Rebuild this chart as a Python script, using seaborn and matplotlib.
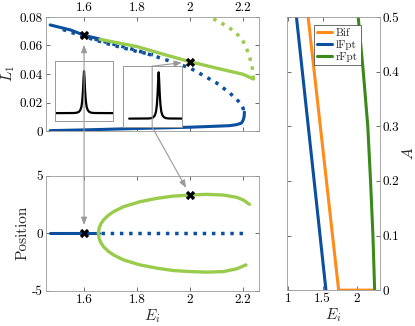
import numpy as np
import pandas as pd
import seaborn as sns
import matplotlib.pyplot as plt
from matplotlib.patches import ConnectionPatch

sns.set_style('ticks')
plt.rcParams['font.family'] = ['serif']
plt.rcParams['font.serif'] = ['cmr10', 'DejaVu Serif']
plt.rcParams['mathtext.fontset'] = 'cm'
plt.rcParams['axes.formatter.use_mathtext'] = True

BLUE = '#0b4f9e'
LGREEN = '#99cc4d'
ORANGE = '#ff8c1a'
DGREEN = '#3a8a1a'
GRAY = '#9a9a9a'

# ---- top panel: L1 vs Ei
up_solid_x = [1.472, 1.52, 1.55, 1.6, 1.63, 1.66]
up_solid_y = [0.0744, 0.0722, 0.0708, 0.0672, 0.0658, 0.0645]
dot_a_x = [1.64, 1.7, 1.8, 1.9, 2.0, 2.05, 2.1, 2.15, 2.19, 2.2, 2.205]
dot_a_y = [0.0645, 0.0615, 0.0565, 0.0505, 0.0442, 0.039, 0.0337, 0.0267, 0.0196, 0.016, 0.0133]
dot_b_x = [1.52, 1.6, 1.7, 1.8, 1.86]
dot_b_y = [0.0712, 0.0662, 0.0606, 0.0558, 0.0535]
low_x = [1.472, 1.6, 1.8, 2.0, 2.1, 2.15, 2.176, 2.194, 2.2, 2.204, 2.205]
low_y = [0.0003, 0.0008, 0.0018, 0.0027, 0.0034, 0.0038, 0.0045, 0.0056, 0.0075, 0.010, 0.0133]
gr_solid_x = [1.66, 1.8, 1.9, 2.0, 2.1, 2.2, 2.239]
gr_solid_y = [0.0643, 0.0592, 0.0538, 0.0486, 0.0441, 0.0398, 0.0365]
gr_dot_x = [2.239, 2.236, 2.226, 2.215, 2.201, 2.18, 2.151, 2.12, 2.08]
gr_dot_y = [0.0365, 0.043, 0.051, 0.057, 0.0627, 0.0675, 0.072, 0.0755, 0.0795]
mark_top_x = [1.6, 2.0]
mark_top_y = [0.0672, 0.0486]

# ---- bottom panel: position vs Ei
pos_solid_x = [1.472, 1.655]
pos_solid_y = [0, 0]
pos_dot_x = [1.665, 2.2]
pos_dot_y = [0, 0]
pos_up_x = [1.654, 1.657, 1.663, 1.673, 1.691, 1.711, 1.748, 1.811, 1.874, 1.937,
            2.0, 2.063, 2.126, 2.176, 2.201, 2.224]
pos_up_y = [0, 0.45, 0.8, 1.15, 1.55, 1.87, 2.3, 2.74, 3.03, 3.23,
            3.32, 3.38, 3.32, 3.12, 2.89, 2.51]
pos_lo_x = [1.654, 1.657, 1.663, 1.673, 1.691, 1.711, 1.748, 1.811, 1.874, 1.937,
            2.0, 2.063, 2.126, 2.176, 2.211]
pos_lo_y = [0, -0.45, -0.8, -1.16, -1.56, -1.88, -2.31, -2.75, -3.03, -3.24,
            -3.33, -3.38, -3.33, -3.09, -2.75]
mark_bot_x = [1.6, 2.0]
mark_bot_y = [0, 3.32]

# ---- right panel: A vs Ei
bif_x = [1.29, 1.735, 2.23]
bif_y = [0.5, 0, 0]
lf_x = [1.12, 1.55]
lf_y = [0.5, 0]
rf_x = [2.02, 2.094, 2.16, 2.2, 2.235, 2.26]
rf_y = [0.5, 0.4, 0.3, 0.2, 0.1, 0]

# ---- inset pulse profile
pulse_x = [-1, -0.35, -0.25, -0.18, -0.13, -0.09, -0.06, -0.035, -0.015, 0,
           0.015, 0.035, 0.06, 0.09, 0.13, 0.18, 0.25, 0.35, 1]
pulse_y = [0, 0.003, 0.01, 0.03, 0.07, 0.15, 0.3, 0.55, 0.85, 1,
           0.85, 0.55, 0.3, 0.15, 0.07, 0.03, 0.01, 0.003, 0]

top_yticks = [0, 0.02, 0.04, 0.06, 0.08]
top_ylabels = ['0', '0.02', '0.04', '0.06', '0.08']
ei_ticks = [1.6, 1.8, 2.0, 2.2]
ei_labels = ['1.6', '1.8', '2', '2.2']
pos_ticks = [-5, 0, 5]
pos_labels = ['-5', '0', '5']
a_ticks = [0, 0.1, 0.2, 0.3, 0.4, 0.5]
a_labels = ['0', '0.1', '0.2', '0.3', '0.4', '0.5']
r_xticks = [1, 1.5, 2]
r_xlabels = ['1', '1.5', '2']

fig = plt.figure(figsize=(4.15, 3.26), dpi=100)
ax1 = fig.add_axes([0.110, 0.598, 0.514, 0.350])
ax2 = fig.add_axes([0.110, 0.108, 0.514, 0.353])
ax3 = fig.add_axes([0.692, 0.110, 0.224, 0.838])


def line(ax, x, y, color, ls='-', lw=2.2, label=None):
    sns.lineplot(x=x, y=y, ax=ax, color=color, linestyle=ls, lw=lw,
                 sort=False, estimator=None, label=label, legend=False)


# top
line(ax1, up_solid_x, up_solid_y, BLUE)
line(ax1, low_x, low_y, BLUE)
line(ax1, dot_a_x, dot_a_y, BLUE, ':', 2.5)
line(ax1, dot_b_x, dot_b_y, BLUE, ':', 2.5)
line(ax1, gr_solid_x, gr_solid_y, LGREEN, '-', 2.4)
line(ax1, gr_dot_x, gr_dot_y, LGREEN, ':', 2.5)
sns.scatterplot(x=mark_top_x, y=mark_top_y, ax=ax1, marker='X', s=45,
                color='black', zorder=5, linewidth=0)
ax1.set_xlim(1.455, 2.26)
ax1.set_ylim(0, 0.08)
ax1.set_yticks(top_yticks, top_ylabels)
ax1.set_xticks(ei_ticks, ei_labels)
ax1.tick_params(labeltop=True, labelbottom=False)
ax1.set_ylabel('$L_1$', fontsize=11, labelpad=2)

# bottom
line(ax2, pos_solid_x, pos_solid_y, BLUE)
line(ax2, pos_dot_x, pos_dot_y, BLUE, ':', 2.5)
line(ax2, pos_up_x, pos_up_y, LGREEN, '-', 2.4)
line(ax2, pos_lo_x, pos_lo_y, LGREEN, '-', 2.4)
sns.scatterplot(x=mark_bot_x, y=mark_bot_y, ax=ax2, marker='X', s=45,
                color='black', zorder=5, linewidth=0)
ax2.set_xlim(1.455, 2.26)
ax2.set_ylim(-5, 5)
ax2.set_yticks(pos_ticks, pos_labels)
ax2.set_xticks(ei_ticks, ei_labels)
ax2.set_ylabel('Position', fontsize=11, labelpad=2)
ax2.set_xlabel('$E_i$', fontsize=11, labelpad=1)

# right
line(ax3, bif_x, bif_y, ORANGE, '-', 2.2, 'Bif')
line(ax3, lf_x, lf_y, BLUE, '-', 2.2, 'lFpt')
line(ax3, rf_x, rf_y, DGREEN, '-', 2.2, 'rFpt')
ax3.set_xlim(0.985, 2.34)
ax3.set_ylim(0, 0.5)
ax3.set_yticks(a_ticks, a_labels)
ax3.set_xticks(r_xticks, r_xlabels)
ax3.tick_params(labelleft=False, labelright=True)
ax3.yaxis.set_label_position('right')
ax3.set_ylabel('$A$', fontsize=11, labelpad=1)
ax3.set_xlabel('$E_i$', fontsize=11, labelpad=1)
leg = ax3.legend(loc='upper left', bbox_to_anchor=(0.29, 0.97), fontsize=8,
                 handlelength=1.4, handletextpad=0.3, borderpad=0.25,
                 labelspacing=0.2, fancybox=False, framealpha=1,
                 borderaxespad=0)
leg.get_frame().set_edgecolor('#555555')
leg.get_frame().set_linewidth(0.6)

for ax in (ax1, ax2, ax3):
    ax.tick_params(direction='in', length=3, width=0.5, labelsize=9.5,
                   top=True, right=True, pad=2, colors='#333333',
                   labelcolor='black')
    for s in ax.spines.values():
        s.set_color('#999999')
        s.set_linewidth(0.6)

# insets
in1 = fig.add_axes([0.1325, 0.629, 0.140, 0.184])
in2 = fig.add_axes([0.2957, 0.610, 0.142, 0.187])
line(in1, pulse_x, pulse_y, 'black', '-', 1.6)
line(in2, pulse_x, pulse_y, 'black', '-', 1.6)
in1.set_xlim(-1, 1)
in1.set_ylim(-0.186, 1.243)
in2.set_xlim(-1.22, 0.78)
in2.set_ylim(-0.184, 1.132)
for ax in (in1, in2):
    ax.set_xticks([])
    ax.set_yticks([])
    ax.set_xlabel('')
    ax.set_ylabel('')
    for s in ax.spines.values():
        s.set_color('#999999')
        s.set_linewidth(0.7)

# arrows
arr = dict(arrowstyle='-|>,head_length=0.45,head_width=0.18', color=GRAY,
           lw=0.8, mutation_scale=10, zorder=10)
con = ConnectionPatch(xyA=(mark_top_x[0], mark_top_y[0]), coordsA=ax1.transData,
                      xyB=(mark_bot_x[0], mark_bot_y[0]), coordsB=ax2.transData,
                      arrowstyle='<|-|>,head_length=0.45,head_width=0.18',
                      color=GRAY, lw=0.8, mutation_scale=10, zorder=10,
                      shrinkA=7, shrinkB=6)
fig.add_artist(con)
con2 = ConnectionPatch(xyA=(0.5, 1.0), coordsA=in2.transAxes,
                       xyB=(mark_top_x[1], mark_top_y[1]), coordsB=ax1.transData,
                       shrinkA=0, shrinkB=6, **arr)
fig.add_artist(con2)
con3 = ConnectionPatch(xyA=(0.5, 1.0), coordsA=in2.transAxes,
                       xyB=(0.5, 0.0), coordsB=in2.transAxes,
                       arrowstyle='-', color=GRAY, lw=0.8, zorder=10)
fig.add_artist(con3)
con4 = ConnectionPatch(xyA=(0.5, 0.0), coordsA=in2.transAxes,
                       xyB=(mark_bot_x[1], mark_bot_y[1]), coordsB=ax2.transData,
                       shrinkA=0, shrinkB=6, **arr)
fig.add_artist(con4)

fig.savefig('out.png', dpi=100)
